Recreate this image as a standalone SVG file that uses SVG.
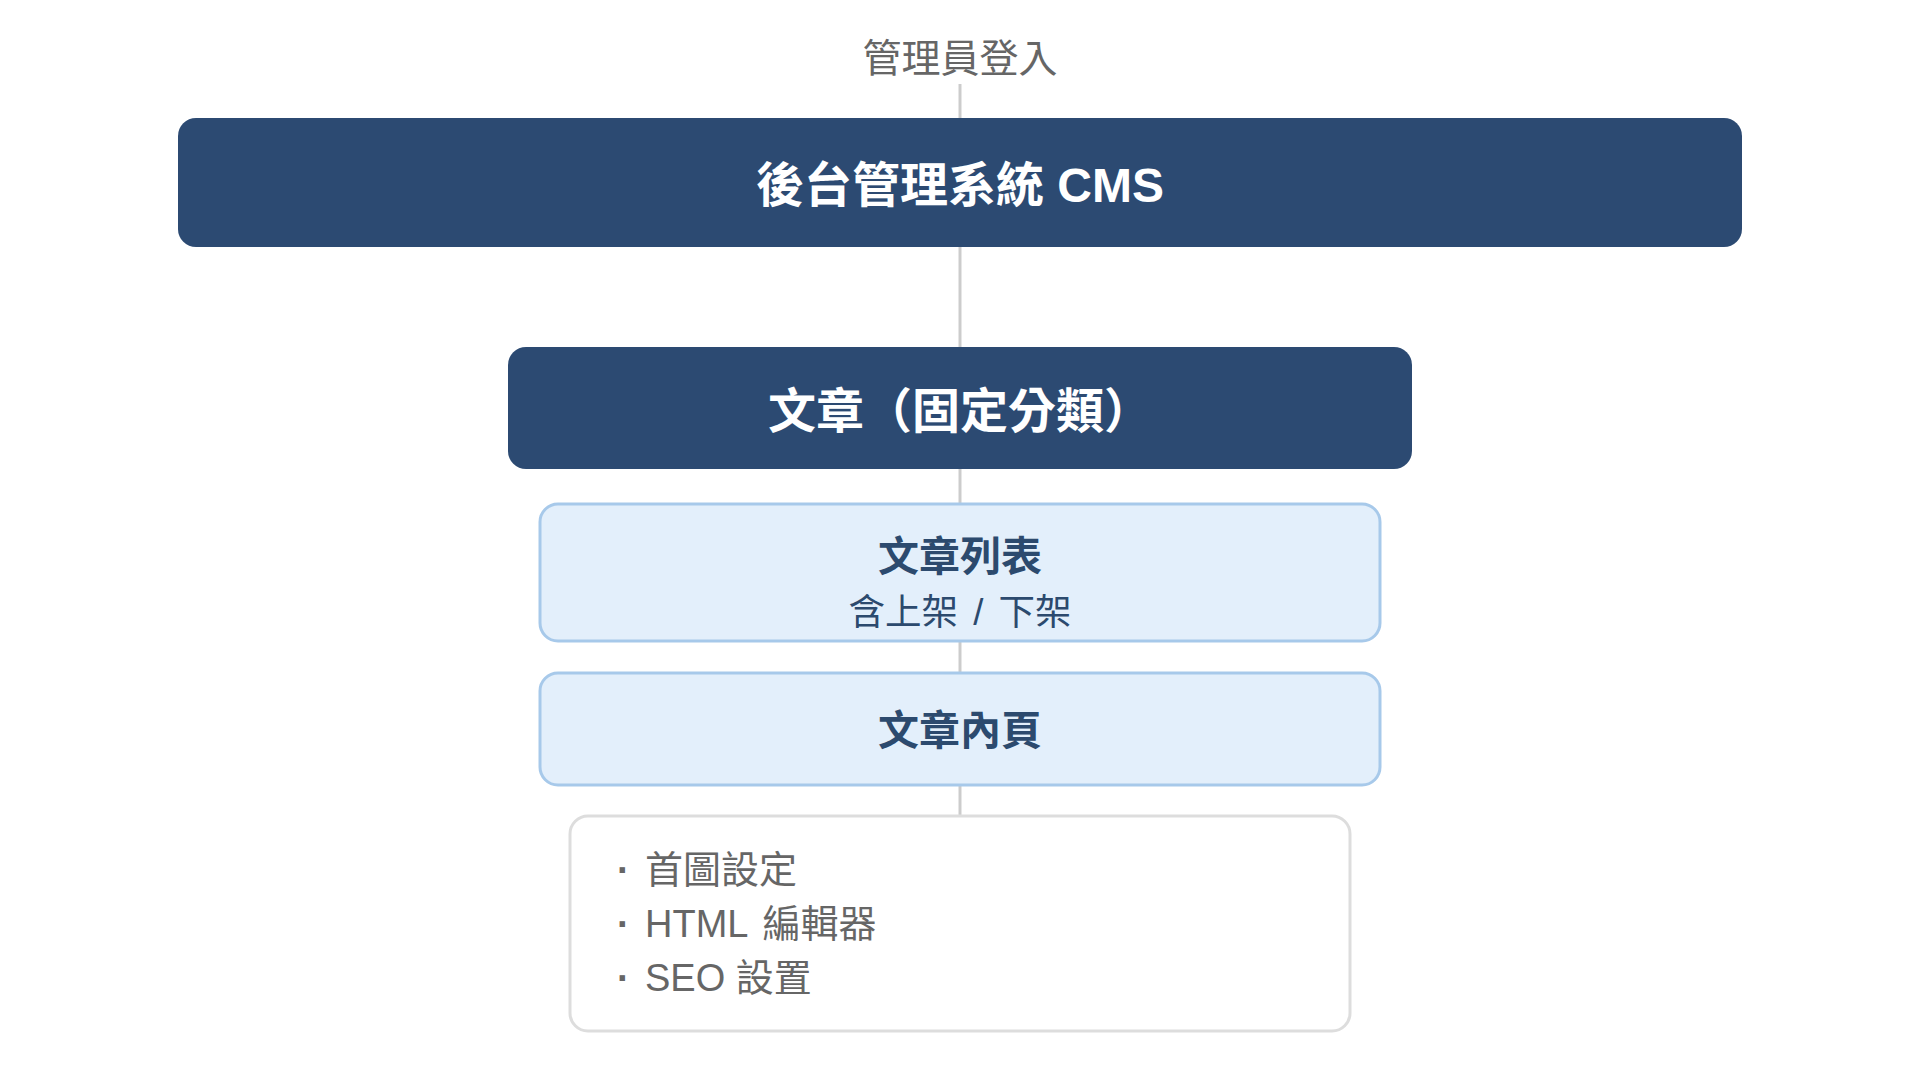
<svg xmlns="http://www.w3.org/2000/svg" width="1920" height="1080" viewBox="0 0 1920 1080">
<style>
  text { font-family: "Liberation Sans", "Noto Sans CJK TC", sans-serif; }
  .dark { fill: #2c4a72; }
  .light { fill: #e3effb; stroke: #a7c9ea; stroke-width: 3; }
  .plain { fill: #ffffff; stroke: #dddddd; stroke-width: 3; }
  .conn { stroke: #cccccc; stroke-width: 3; fill: none; }
  .t-white { fill: #ffffff; font-weight: bold; font-size: 48px; text-anchor: middle; }
  .t-navy { fill: #2c4a6e; font-weight: bold; font-size: 41px; text-anchor: middle; }
  .t-sub { fill: #2c4a6e; font-size: 36.5px; text-anchor: middle; word-spacing: 5px; }
  .t-gray { fill: #666666; font-size: 39px; text-anchor: middle; }
  .t-list { fill: #666666; font-size: 38px; }
  .bullet { font-weight: bold; }
</style>
<rect width="1920" height="1080" fill="#ffffff"/>
<g id="connectors">
  <line class="conn" x1="960" y1="84" x2="960" y2="118"/>
  <line class="conn" x1="960" y1="247" x2="960" y2="347"/>
  <line class="conn" x1="960" y1="469" x2="960" y2="503"/>
  <line class="conn" x1="960" y1="642" x2="960" y2="672"/>
  <line class="conn" x1="960" y1="786" x2="960" y2="816"/>
</g>
<g id="login">
  <text class="t-gray" x="960" y="72">管理員登入</text>
</g>
<g id="cms">
  <rect class="dark" x="178" y="118" width="1564" height="129" rx="18"/>
  <text class="t-white" x="960" y="202">後台管理系統 CMS</text>
</g>
<g id="article">
  <rect class="dark" x="508" y="347" width="904" height="122" rx="18"/>
  <text class="t-white" x="960" y="428">文章（固定分類）</text>
</g>
<g id="article-list">
  <rect class="light" x="540" y="504" width="840" height="137" rx="18"/>
  <text class="t-navy" x="960" y="571">文章列表</text>
  <text class="t-sub" x="960" y="625">含上架 / 下架</text>
</g>
<g id="article-page">
  <rect class="light" x="540" y="673" width="840" height="112" rx="18"/>
  <text class="t-navy" x="960" y="745">文章內頁</text>
</g>
<g id="article-details">
  <rect class="plain" x="570" y="816" width="780" height="215" rx="18"/>
  <text class="t-list" y="883"><tspan class="bullet" x="617">·</tspan><tspan x="645">首圖設定</tspan></text>
  <text class="t-list" y="937"><tspan class="bullet" x="617">·</tspan><tspan x="645" word-spacing="5">HTML 編輯器</tspan></text>
  <text class="t-list" y="991"><tspan class="bullet" x="617">·</tspan><tspan x="645">SEO 設置</tspan></text>
</g>
</svg>
